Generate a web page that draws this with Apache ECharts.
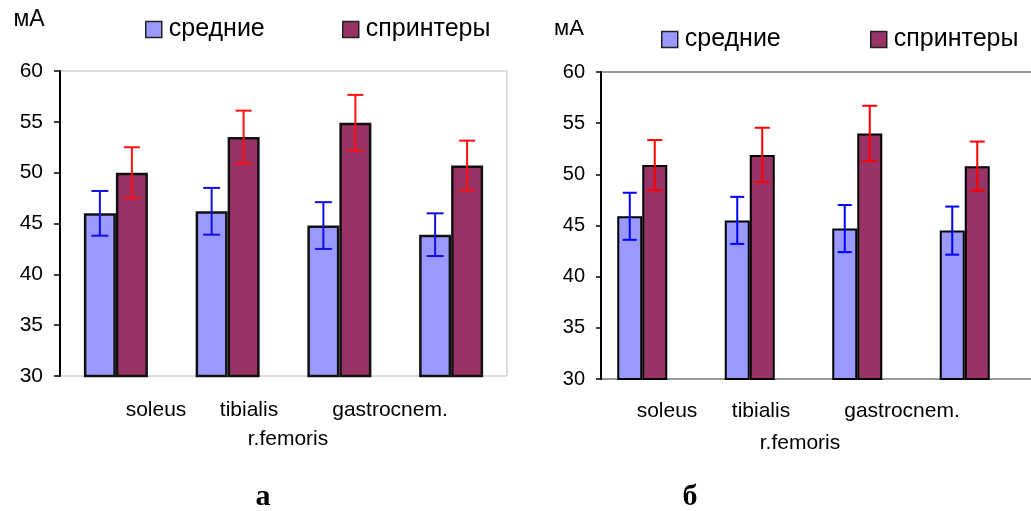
<!DOCTYPE html>
<html lang="ru">
<head>
    <meta charset="UTF-8">
    <title>мА</title>
    <script type="text/javascript" src="https://cdn.jsdelivr.net/npm/echarts@6/dist/echarts.min.js"></script>
    <style>
        html, body { margin: 0; padding: 0; background: #fff; }
        #chart { width: 1031px; height: 511px; }
    </style>
</head>
<body>
<div id="chart"></div>
<script type="text/javascript">
    var categories = ['soleus', 'r.femoris', 'tibialis', 'gastrocnem.'];
    var seriesNames = ['средние', 'спринтеры'];
    var yTicks = [30, 35, 40, 45, 50, 55, 60];

    // panel а
    var aMean = [46.0, 46.2, 44.8, 43.9];
    var aMeanErr = [2.2, 2.3, 2.3, 2.1];
    var aSprint = [50.0, 53.5, 54.9, 50.7];
    var aSprintErr = [2.5, 2.6, 2.75, 2.45];

    // panel б
    var bMean = [45.9, 45.5, 44.7, 44.5];
    var bMeanErr = [2.3, 2.3, 2.3, 2.35];
    var bSprint = [50.9, 51.9, 54.0, 50.8];
    var bSprintErr = [2.45, 2.65, 2.7, 2.4];

    var FONT = "'Liberation Sans', Arial, sans-serif";
    var BLUE = '#9999ff', WINE = '#993366';

    function errSeries(vals, errs, grid, dx, color, cap) {
        return {
            type: 'custom',
            name: 'err',
            xAxisIndex: grid, yAxisIndex: grid,
            z: 5,
            data: vals.map(function (v, i) { return [i, v, errs[i]]; }),
            renderItem: function (params, api) {
                var i = api.value(0), v = api.value(1), e = api.value(2);
                var top = api.coord([i, v + e]);
                var bot = api.coord([i, v - e]);
                var x = top[0] + dx;
                var st = { stroke: color, lineWidth: 2 };
                return {
                    type: 'group',
                    children: [
                        { type: 'line', shape: { x1: x, y1: top[1], x2: x, y2: bot[1] }, style: st },
                        { type: 'line', shape: { x1: x - cap / 2, y1: top[1], x2: x + cap / 2, y2: top[1] }, style: st },
                        { type: 'line', shape: { x1: x - cap / 2, y1: bot[1], x2: x + cap / 2, y2: bot[1] }, style: st }
                    ]
                };
            }
        };
    }

    function yAxisOf(grid, size, margin, tick) {
        return {
            type: 'value', gridIndex: grid, min: yTicks[0], max: yTicks[yTicks.length - 1], interval: 5,
            axisLine: { show: true, lineStyle: { color: '#000', width: 2 } },
            axisTick: { show: true, length: tick, lineStyle: { color: '#000', width: 1.5 } },
            axisLabel: { color: '#000', fontSize: size, fontFamily: FONT, margin: margin },
            splitLine: { show: false },
            z: 4
        };
    }

    function xAxisOf(grid, pos, line) {
        return {
            type: 'category', gridIndex: grid, data: categories, position: pos,
            axisLine: line ? { show: true, onZero: false, lineStyle: { color: '#999', width: 2 } } : { show: false },
            axisTick: { show: false }, axisLabel: { show: false }
        };
    }

    function legendOf(name, left, top, size) {
        return {
            data: [name], left: left, top: top, itemWidth: 16, itemHeight: 16, icon: 'rect', itemGap: 0,
            itemStyle: { borderColor: '#222', borderWidth: 1.5 },
            textStyle: { color: '#000', fontSize: size, fontFamily: FONT, padding: [0, 0, 0, 2] }, selectedMode: false
        };
    }

    function text(str, x, y, size, extra) {
        var s = { text: str, x: x, y: y, fill: '#000', fontSize: size, fontFamily: FONT, align: 'center', verticalAlign: 'middle' };
        for (var k in extra) s[k] = extra[k];
        return { type: 'text', style: s, z: 10 };
    }

    var chart = echarts.init(document.getElementById('chart'));
    var option = {
        animation: false,
        backgroundColor: '#fff',
        grid: [
            { left: 60, top: 71, width: 447, height: 305, show: true, borderColor: '#bbb', borderWidth: 1 },
            // panel б runs off the right edge of the scan: only top and bottom lines
            { left: 601, top: 72, right: 0, height: 307 }
        ],
        xAxis: [xAxisOf(0, 'bottom', false), xAxisOf(1, 'bottom', true), xAxisOf(1, 'top', true)],
        yAxis: [yAxisOf(0, 21, 17, 6), yAxisOf(1, 20, 16, 5)],
        legend: [
            legendOf(seriesNames[0], 140, 12, 25),
            legendOf(seriesNames[1], 337, 12, 25),
            legendOf(seriesNames[0], 656, 22, 25),
            legendOf(seriesNames[1], 865, 22, 25)
        ],
        series: [
            { type: 'bar', name: seriesNames[0], xAxisIndex: 0, yAxisIndex: 0, data: aMean, barWidth: 32, barGap: '0%',
              itemStyle: { color: BLUE, borderColor: '#111', borderWidth: 2.5 } },
            { type: 'bar', name: seriesNames[1], xAxisIndex: 0, yAxisIndex: 0, data: aSprint, barWidth: 32, barGap: '0%',
              itemStyle: { color: WINE, borderColor: '#111', borderWidth: 2.5 } },
            { type: 'bar', name: seriesNames[0], xAxisIndex: 1, yAxisIndex: 1, data: bMean, barWidth: 25, barGap: '0%',
              itemStyle: { color: BLUE, borderColor: '#000', borderWidth: 2 } },
            { type: 'bar', name: seriesNames[1], xAxisIndex: 1, yAxisIndex: 1, data: bSprint, barWidth: 25, barGap: '0%',
              itemStyle: { color: WINE, borderColor: '#000', borderWidth: 2 } },
            // empty slot so the pairs in panel б sit left of the category centre, as in the scan
            { type: 'bar', name: 'gap', xAxisIndex: 1, yAxisIndex: 1, data: ['-', '-', '-', '-'], barWidth: 25, barGap: '0%', silent: true },
            errSeries(aMean, aMeanErr, 0, -16, '#1010e0', 17),
            errSeries(aSprint, aSprintErr, 0, 16, '#ff1010', 16),
            errSeries(bMean, bMeanErr, 1, -25, '#0000ff', 14),
            errSeries(bSprint, bSprintErr, 1, 0, '#ff0000', 15)
        ],
        graphic: [
            text('мА', 29, 20, 23),
            text('мА', 569, 29, 22),
            text(categories[0], 156, 410, 21),
            text(categories[2], 249, 410, 21),
            text(categories[3], 390, 410, 21),
            text(categories[1], 288, 439, 21),
            text(categories[0], 667, 411, 21),
            text(categories[2], 761, 411, 21),
            text(categories[3], 902, 411, 21),
            text(categories[1], 800, 443, 21),
            text('а', 263, 497, 30, { fontFamily: "'Liberation Serif', 'DejaVu Serif', serif", fontWeight: 'bold' }),
            text('б', 690, 497, 30, { fontFamily: "'Liberation Serif', 'DejaVu Serif', serif", fontWeight: 'bold' })
        ]
    };
    chart.setOption(option);
</script>
</body>
</html>
